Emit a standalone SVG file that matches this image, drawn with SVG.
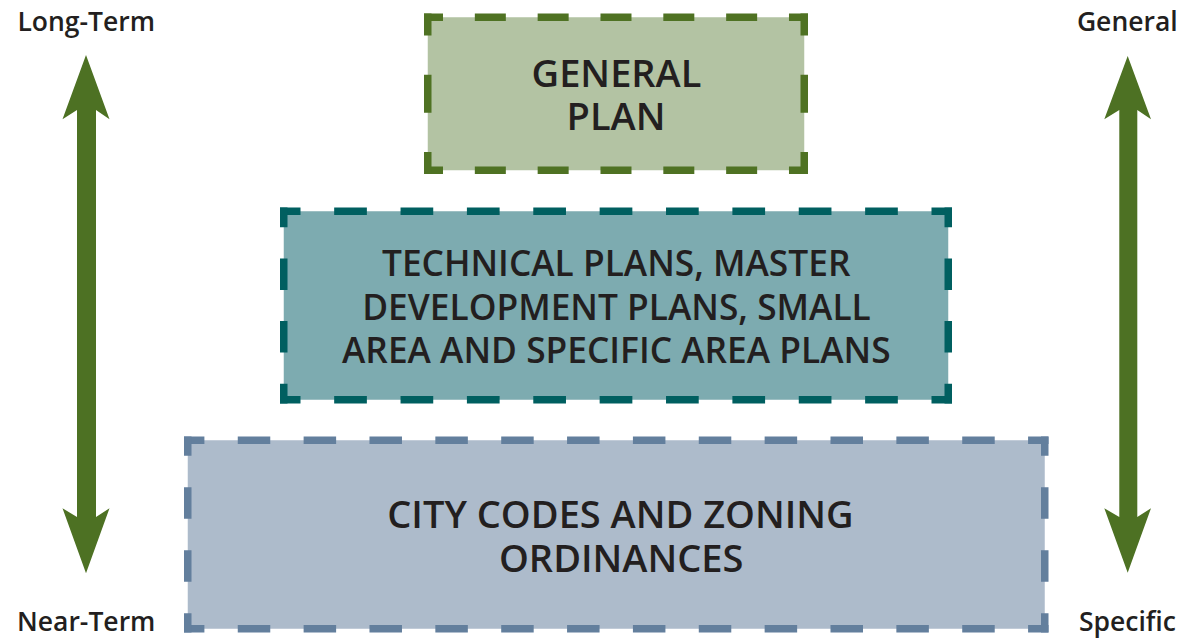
<svg xmlns="http://www.w3.org/2000/svg" width="1182" height="638" viewBox="0 0 1182 638">
<style>
.lbl{font-family:"Open Sans","Liberation Sans",sans-serif;font-weight:600;font-size:26.5px;fill:#231f20;text-anchor:middle}
.bt{font-family:"Open Sans","Liberation Sans",sans-serif;font-weight:600;font-size:38px;fill:#231f20;text-anchor:middle}
.bt2{font-size:35.3px}
.b1s{stroke:#4f7223;stroke-width:7.5;fill:none}
.b2s{stroke:#005f60;stroke-width:7.5;fill:none}
.b3s{stroke:#637f9d;stroke-width:7.5;fill:none}
.h1{stroke-dasharray:31 31.83;stroke-dashoffset:12}
.v1{stroke-dasharray:38 39.25;stroke-dashoffset:16}
.h2{stroke-dasharray:32.7 33.67;stroke-dashoffset:12.2}
.v2{stroke-dasharray:31.5 31.2;stroke-dashoffset:11.8}
.h3{stroke-dasharray:32.5 33.36;stroke-dashoffset:12.1}
.v3{stroke-dasharray:31.5 31.47;stroke-dashoffset:12.2}
.arr{fill:#4d7123}
</style>
<rect width="1182" height="638" fill="#ffffff"/>
<g id="labels">
<text class="lbl" x="86.2" y="30.7">Long-Term</text>
<text class="lbl" x="86.2" y="630.5">Near-Term</text>
<text class="lbl" x="1127.3" y="30.7">General</text>
<text class="lbl" x="1127.5" y="630.5">Specific</text>
</g>
<g id="general-plan">
<rect x="427.75" y="17.25" width="376.5" height="153" fill="#b3c3a3"/>
<line class="b1s h1" x1="424" y1="17.25" x2="808" y2="17.25"/>
<line class="b1s h1" x1="424" y1="170.25" x2="808" y2="170.25"/>
<line class="b1s v1" x1="427.75" y1="13.5" x2="427.75" y2="174"/>
<line class="b1s v1" x1="804.25" y1="13.5" x2="804.25" y2="174"/>
<text class="bt" x="616.5" y="86.7">GENERAL</text>
<text class="bt" x="616" y="130.3">PLAN</text>
</g>
<g id="technical-plans">
<rect x="283.75" y="211.25" width="664.5" height="188.5" fill="#7dabb0"/>
<line class="b2s h2" x1="280" y1="211.25" x2="952" y2="211.25"/>
<line class="b2s h2" x1="280" y1="399.75" x2="952" y2="399.75"/>
<line class="b2s v2" x1="283.75" y1="207.5" x2="283.75" y2="403.5"/>
<line class="b2s v2" x1="948.25" y1="207.5" x2="948.25" y2="403.5"/>
<text class="bt bt2" x="616.2" y="276">TECHNICAL PLANS, MASTER</text>
<text class="bt bt2" x="616.5" y="319.5">DEVELOPMENT PLANS, SMALL</text>
<text class="bt bt2" x="616.3" y="363">AREA AND SPECIFIC AREA PLANS</text>
</g>
<g id="city-codes">
<rect x="187.75" y="440.25" width="857" height="188.5" fill="#adbbcb"/>
<line class="b3s h3" x1="184" y1="440.25" x2="1048.5" y2="440.25"/>
<line class="b3s h3" x1="184" y1="628.75" x2="1048.5" y2="628.75"/>
<line class="b3s v3" x1="187.75" y1="436.5" x2="187.75" y2="632.5"/>
<line class="b3s v3" x1="1044.75" y1="436.5" x2="1044.75" y2="632.5"/>
<text class="bt" x="620.5" y="528.3">CITY CODES AND ZONING</text>
<text class="bt" x="621.2" y="571.7">ORDINANCES</text>
</g>
<g id="connectors">
<path class="arr" d="M86,55 L109.5,119.3 L96,110 L96,517 L109.5,508.3 L86,573.3 L62.5,508.3 L77,517 L77,110 L62.5,119.3 Z"/>
<path class="arr" d="M1127.7,56 L1151,119.3 L1137.3,110 L1137.3,517 L1151,508.3 L1127.7,572.7 L1104.3,508.3 L1119.3,517 L1119.3,110 L1104.3,119.3 Z"/>
</g>
</svg>
